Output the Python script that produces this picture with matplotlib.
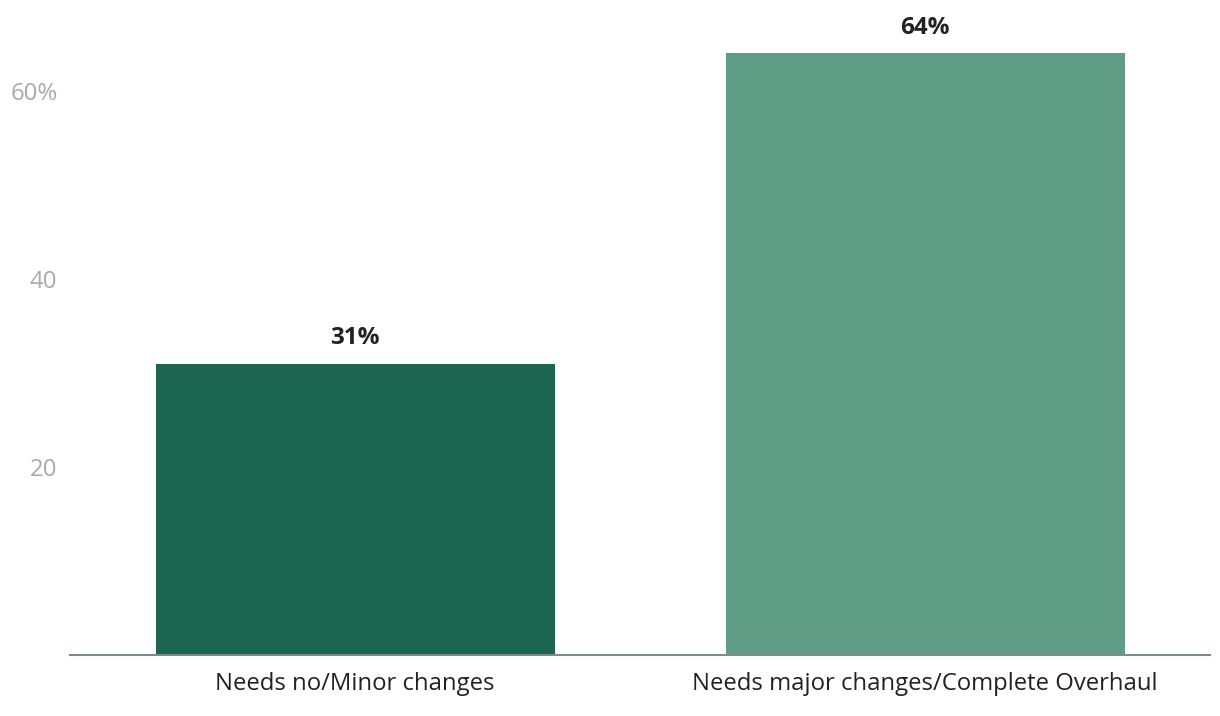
import matplotlib.pyplot as plt

plt.rcParams['font.family'] = ['Open Sans', 'DejaVu Sans']

categories = ['Needs no/Minor changes', 'Needs major changes/Complete Overhaul']
values = [31, 64]
colors = ['#1c6650', '#5f9d86']
yticks = [20, 40, 60]
ytick_labels = ['20', '40', '60%']

fig = plt.figure(figsize=(12.2, 7.16), dpi=100)
ax = fig.add_axes([70/1220, 1 - 655/716, 1140/1220, 645/716])

x = range(len(categories))
bars = ax.bar(x, values, width=0.7, color=colors, zorder=2)
ax.set_xlim(-0.5, 1.5)
ax.set_ylim(0, 645/9.4)

for b, v in zip(bars, values):
    ax.annotate(f'{v}%', (b.get_x() + b.get_width()/2, v), xytext=(0, 18.5),
                textcoords='offset points', ha='center', va='center',
                fontsize=17.5, fontweight='bold', color='#222222')

ax.set_xticks(list(x))
ax.set_xticklabels(categories, fontsize=17.2, color='#222222')
ax.set_yticks(yticks)
ax.set_yticklabels(ytick_labels, fontsize=17.3, color='#aaaaaa')
ax.tick_params(axis='both', length=0)
ax.tick_params(axis='x', pad=12)
ax.tick_params(axis='y', pad=9)

for s in ['top', 'right', 'left']:
    ax.spines[s].set_visible(False)
ax.spines['bottom'].set_color('#7a8a8f')
ax.spines['bottom'].set_linewidth(1.5)
ax.spines['bottom'].set_zorder(3)

fig.savefig('out.png', dpi=100)
